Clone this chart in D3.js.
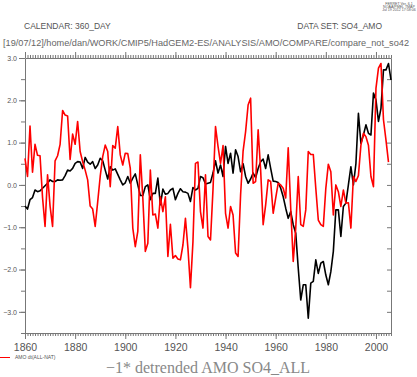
<!DOCTYPE html>
<html>
<head>
<meta charset="utf-8">
<script src="https://cdn.jsdelivr.net/npm/d3@7"></script>
<style>
    body { margin: 0; background: #fff; }
    svg { display: block; }
</style>
</head>
<body>
<div id="chart"></div>
<script>
// AMO dt(ALL-NAT), one value per year from 1860
const redStart = 1860;
const redValues = [
    0.63, 0.2, 1.39, 0.3, 0.96, 0.7, 0.69, -0.3, -0.98, 0.24,
    -0.5, -0.98, 0.57, 0.69, 0.96, 1.76, 1.65, 1.63, 0.6, 1.2,
    0.96, 1.5, 0.79, 0.55, 0.35, 0.12, -0.5, -0.57, -0.98, -0.4,
    0.2, 0.67, 0.94, 0.79, -0.04, 0.93, 0.87, 1.38, 0.71, 0.47,
    0.75, 0.74, 0.39, -1.02, -1.46, -1.1, 0.71, -0.31, -1.57, -1.38,
    0.35, -0.71, -0.69, -1.02, -0.28, -0.63, -0.28, -1.69, -0.93, -1.73,
    -1.67, -1.75, -1.77, -1.42, -0.79, -1.5, -2.43, -1.34, 0.51, 0.54,
    -0.63, -1.02, 0.24, -1.22, -1.3, -0.1, 1.38, 0.91, 0.51, 0.93,
    -0.67, -1.02, -0.51, -0.71, -1.61, -1.69, -0.24, 0.8, 1.26, 1.89,
    2.05, 0.04, 0.08, 1.3, 0.35, -0.94, -0.47, 0.12, 0.08, -0.67,
    -0.31, 0.04, 0.0, -0.08, -0.31, 0.88, -0.55, -1.81, -1.02, 0.2,
    -0.94, -0.98, -0.59, 0.79, 0.72, 0.72, -0.08, -0.83, -0.94, -0.98,
    -0.08, 0.49, 0.31, -0.71, 0.0, -0.16, -0.51, -0.12, -0.43, -0.42,
    -1.02, 0.2, 0.08, 0.22, 0.94, 1.22, 1.14, 0.94, 0.2, -0.04,
    2.28, 2.76, 2.87, 1.54, 1.06, 0.54
];

// -1 * detrended AMO SO4_ALL, one value per year from 1860
const blackStart = 1860;
const blackValues = [
    -0.5, -0.57, -0.35, -0.3, -0.12, -0.16, -0.14, -0.08, -0.02, 0.04,
    0.12, 0.08, 0.08, 0.12, 0.11, 0.12, 0.22, 0.35, 0.33, 0.39,
    0.51, 0.55, 0.54, 0.39, 0.65, 0.54, 0.49, 0.55, 0.39, 0.47,
    0.63, 0.57, 0.35, 0.14, 0.43, 0.35, 0.38, 0.25, 0.12, 0.0,
    0.05, 0.2, 0.04, 0.16, 0.26, 0.0, -0.25, -0.25, -0.04, 0.0,
    -0.35, -0.2, -0.2, 0.16, -0.47, -0.1, -0.22, -0.2, -0.12, -0.08,
    -0.35, -0.2, -0.09, -0.16, -0.17, -0.2, -0.39, -0.06, -0.12, -0.08,
    0.2, 0.17, 0.02, 0.04, 0.06, 0.28, 0.57, 0.28, 0.47, 0.2,
    0.91, 0.51, 0.75, 0.28, 0.83, 0.67, 0.31, 0.5, 0.2, 0.04,
    0.14, 0.28, 0.17, 0.39, 0.55, 0.61, 0.39, 0.71, 0.39, 0.09,
    0.08, 0.06, -0.08, -0.28, -0.55, -0.79, -0.63, -0.94, -1.14, -1.97,
    -2.72, -2.36, -2.36, -3.15, -2.32, -2.28, -1.77, -2.09, -1.85, -1.81,
    -2.13, -2.36, -2.05, -1.57, -0.59, -0.59, -1.22, -0.51, -0.43, 0.0,
    0.43, 0.0, 0.5, 1.69, 0.98, 1.18, 1.42, 1.22, 1.18, 2.17,
    2.01, 1.5, 1.81, 2.72, 2.72, 2.87, 2.48
];

const xLabelYears = [1860, 1880, 1900, 1920, 1940, 1960, 1980, 2000];
const yLabelValues = [-3, -2, -1, 0, 1, 2, 3];
const yDomain = [-3.5, 3.0];
const xDomain = [1860, 2006];

const headerLeft = 'CALENDAR: 360_DAY';
const headerRight = 'DATA SET: SO4_AMO';
const pathLine = '[19/07/12]/home/dan/WORK/CMIP5/HadGEM2-ES/ANALYSIS/AMO/COMPARE/compare_not_so42';
const stampLines = ['FERRET Ver. 6.1', 'NOAA/PMEL TMAP', 'Jul 19 2012 17:58:06'];
const legendLabel = 'AMO dt(ALL-NAT)';
const title = '\u22121* detrended AMO SO4_ALL';

let width = 417,
    height = 377,
    margin = {top: 58, right: 26, bottom: 44, left: 25},
    chartWidth = width - margin.left - margin.right,
    chartHeight = height - margin.top - margin.bottom,
    axisColor = '#777',
    labelColor = '#555';

let svg = d3.select('#chart').append('svg')
    .attr('width', width)
    .attr('height', height)
    .attr('font-family', 'Liberation Sans, Arial, sans-serif');

let g = svg.append('g')
    .attr('transform', `translate(${margin.left}, ${margin.top})`);

let scaleX = d3.scaleLinear().domain(xDomain).range([0, chartWidth]);
let scaleY = d3.scaleLinear().domain(yDomain).range([chartHeight, 0]);

let redData = redValues.map((v, i) => ({year: redStart + i, value: v}));
let blackData = blackValues.map((v, i) => ({year: blackStart + i, value: v}));

let allYears = d3.range(xDomain[0], xDomain[1] + 1);
let halfSteps = d3.range(yDomain[0], yDomain[1] + 0.01, 0.5);

function styleAxis(sel) {
    sel.select('.domain').attr('stroke', axisColor);
    sel.selectAll('.tick line').attr('stroke', axisColor);
    sel.selectAll('.tick text').attr('fill', labelColor);
}

// bottom axis: a tick every year, longer every 20 years
g.append('g')
    .attr('transform', `translate(0, ${chartHeight})`)
    .call(d3.axisBottom(scaleX).tickValues(allYears).tickSize(3).tickSizeOuter(0).tickFormat(''))
    .call(styleAxis);

g.append('g')
    .attr('transform', `translate(0, ${chartHeight})`)
    .call(d3.axisBottom(scaleX).tickValues(xLabelYears).tickSize(6).tickPadding(5).tickFormat(d3.format('d')))
    .call(styleAxis)
    .call((a) => a.select('.domain').remove())
    .selectAll('text')
    .attr('font-size', 10.5);

// top axis
g.append('g')
    .call(d3.axisTop(scaleX).tickValues(allYears).tickSize(3).tickSizeOuter(0).tickFormat(''))
    .call(styleAxis);

g.append('g')
    .call(d3.axisTop(scaleX).tickValues(xLabelYears).tickSize(6).tickFormat(''))
    .call(styleAxis)
    .call((a) => a.select('.domain').remove());

// left axis
g.append('g')
    .call(d3.axisLeft(scaleY).tickValues(halfSteps).tickSize(4).tickSizeOuter(0).tickFormat(''))
    .call(styleAxis);

g.append('g')
    .call(d3.axisLeft(scaleY).tickValues(yLabelValues).tickSize(6).tickPadding(2).tickFormat(d3.format('.1f')))
    .call(styleAxis)
    .call((a) => a.select('.domain').remove())
    .selectAll('text')
    .attr('font-size', 7);

// right axis, ticks pointing into the plot
g.append('g')
    .attr('transform', `translate(${chartWidth}, 0)`)
    .call(d3.axisRight(scaleY).tickValues(halfSteps).tickSizeInner(-4).tickSizeOuter(0).tickFormat(''))
    .call(styleAxis);

// the two series
let line = d3.line()
    .x((d) => scaleX(d.year))
    .y((d) => scaleY(d.value));

g.append('path')
    .datum(blackData)
    .attr('fill', 'none')
    .attr('stroke', '#000')
    .attr('stroke-width', 1.6)
    .attr('stroke-linejoin', 'round')
    .attr('d', line);

g.append('path')
    .datum(redData)
    .attr('fill', 'none')
    .attr('stroke', '#ff0000')
    .attr('stroke-width', 1.6)
    .attr('stroke-linejoin', 'round')
    .attr('d', line);

// header texts
svg.append('g')
    .attr('font-size', 3.6)
    .attr('fill', labelColor)
    .attr('text-anchor', 'middle')
    .selectAll('text')
    .data(stampLines)
    .enter()
    .append('text')
    .attr('x', 399)
    .attr('y', (d, i) => 4.5 + i * 3.4)
    .text((d) => d);

svg.append('text')
    .attr('x', 24)
    .attr('y', 29)
    .attr('font-size', 8.5)
    .attr('fill', labelColor)
    .text(headerLeft);

svg.append('text')
    .attr('x', 382)
    .attr('y', 29)
    .attr('font-size', 8.5)
    .attr('fill', labelColor)
    .attr('text-anchor', 'end')
    .text(headerRight);

svg.append('text')
    .attr('x', 3)
    .attr('y', 46)
    .attr('font-size', 9.2)
    .attr('fill', '#666')
    .attr('textLength', 406)
    .attr('lengthAdjust', 'spacingAndGlyphs')
    .text(pathLine);

// legend
let legend = svg.append('g')
    .attr('transform', 'translate(0, 357.5)');

legend.append('line')
    .attr('x1', 0)
    .attr('x2', 10)
    .attr('stroke', '#ff0000')
    .attr('stroke-width', 1);

legend.append('text')
    .attr('x', 15)
    .attr('y', 1.8)
    .attr('font-size', 5)
    .attr('fill', labelColor)
    .text(legendLabel);

// title under the plot
svg.append('text')
    .attr('x', margin.left + chartWidth / 2)
    .attr('y', 373)
    .attr('text-anchor', 'middle')
    .attr('font-family', 'Liberation Serif, Times New Roman, serif')
    .attr('font-size', 16)
    .attr('fill', '#888')
    .text(title);
</script>
</body>
</html>
